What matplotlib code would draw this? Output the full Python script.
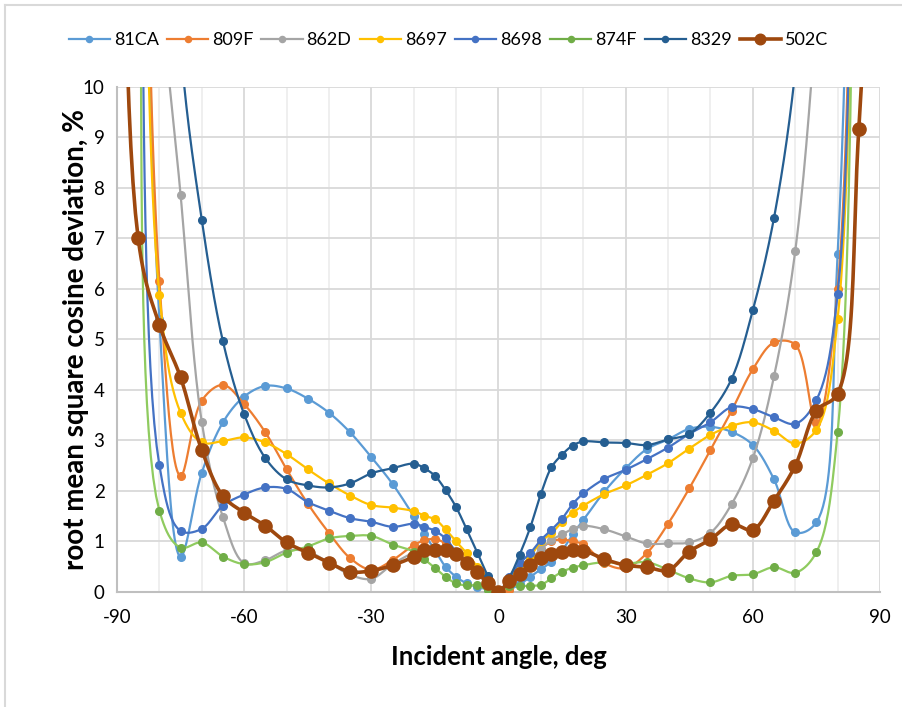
import numpy as np
import matplotlib
matplotlib.use('Agg')
import matplotlib.pyplot as plt

plt.rcParams['font.family'] = ['Lato', 'DejaVu Sans']
plt.rcParams['axes.unicode_minus'] = False

# incident angles, deg
angles = [-85, -80, -75, -70, -65, -60, -55, -50, -45, -40, -35, -30, -25, -20,
          -17.5, -15, -12.5, -10, -7.5, -5, -2.5, 0, 2.5, 5, 7.5, 10, 12.5, 15, 17.5,
          20, 25, 30, 35, 40, 45, 50, 55, 60, 65, 70, 75, 80, 85]
angles_502c = [-90] + angles + [90]

# rms cosine deviation, %  (values above 10 run off the top of the chart)
s_81CA = [21, 5.4, 0.70, 2.36, 3.36, 3.87, 4.08, 4.03, 3.83, 3.55, 3.16, 2.67, 2.14, 1.50,
          1.15, 0.83, 0.50, 0.30, 0.17, 0.10, 0.05, 0, 0.05, 0.15, 0.30, 0.45, 0.60, 0.82, 1.14,
          1.42, 1.99, 2.45, 2.83, 3.02, 3.23, 3.27, 3.17, 2.91, 2.23, 1.18, 1.38, 6.69, 23]
s_809F = [22, 6.16, 2.30, 3.79, 4.10, 3.72, 3.16, 2.43, 1.75, 1.17, 0.67, 0.44, 0.63, 0.93,
          1.02, 1.05, 0.96, 0.80, 0.63, 0.44, 0.22, 0, 0.04, 0.35, 0.60, 0.85, 1.00, 1.04, 1.00,
          0.95, 0.57, 0.47, 0.77, 1.35, 2.05, 2.81, 3.59, 4.41, 4.94, 4.90, 3.34, 6.0, 22]
s_862D = [25, 12.5, 7.87, 3.37, 1.48, 0.57, 0.63, 0.82, 0.80, 0.58, 0.34, 0.26, 0.55, 0.78,
          0.85, 0.90, 0.85, 0.72, 0.55, 0.35, 0.15, 0, 0.20, 0.38, 0.62, 0.85, 1.03, 1.14, 1.25,
          1.31, 1.24, 1.10, 0.96, 0.96, 0.98, 1.17, 1.74, 2.65, 4.27, 6.75, 11.5, 20, 30]
s_8697 = [23, 5.89, 3.55, 2.96, 2.99, 3.06, 2.96, 2.73, 2.43, 2.15, 1.91, 1.72, 1.67, 1.60,
          1.51, 1.44, 1.24, 1.00, 0.77, 0.50, 0.27, 0, 0.27, 0.47, 0.70, 1.00, 1.16, 1.39, 1.57,
          1.71, 1.94, 2.11, 2.32, 2.55, 2.84, 3.11, 3.29, 3.36, 3.19, 2.94, 3.21, 5.4, 20]
s_8698 = [21, 2.51, 1.21, 1.25, 1.71, 1.93, 2.07, 2.04, 1.78, 1.61, 1.46, 1.39, 1.29, 1.35,
          1.29, 1.21, 1.06, 0.80, 0.60, 0.38, 0.20, 0, 0.30, 0.57, 0.77, 1.03, 1.23, 1.45, 1.74,
          1.95, 2.24, 2.42, 2.63, 2.86, 3.13, 3.36, 3.66, 3.62, 3.46, 3.33, 3.80, 5.90, 26]
s_874F = [18, 1.61, 0.88, 0.98, 0.70, 0.55, 0.59, 0.78, 0.90, 1.06, 1.11, 1.11, 0.94, 0.80,
          0.65, 0.48, 0.30, 0.17, 0.13, 0.13, 0.04, 0, 0.12, 0.12, 0.12, 0.14, 0.27, 0.40, 0.48,
          0.53, 0.59, 0.56, 0.59, 0.44, 0.27, 0.19, 0.32, 0.35, 0.49, 0.38, 0.79, 3.16, 20]
s_8329 = [30, 20, 10.8, 7.37, 4.96, 3.52, 2.65, 2.23, 2.11, 2.07, 2.15, 2.35, 2.45, 2.54,
          2.45, 2.30, 2.02, 1.68, 1.24, 0.78, 0.32, 0, 0.28, 0.74, 1.28, 1.94, 2.47, 2.72, 2.90,
          2.98, 2.96, 2.95, 2.91, 3.02, 3.13, 3.55, 4.22, 5.58, 7.41, 10.3, 16, 25, 35]
s_502C = [32, 7.0, 5.29, 4.25, 2.81, 1.90, 1.57, 1.31, 0.98, 0.78, 0.58, 0.40, 0.42, 0.53, 0.70,
          0.84, 0.84, 0.83, 0.76, 0.57, 0.40, 0.17, 0, 0.22, 0.36, 0.54, 0.68, 0.76, 0.79, 0.83,
          0.82, 0.65, 0.53, 0.49, 0.43, 0.80, 1.04, 1.34, 1.23, 1.81, 2.50, 3.59, 3.93, 9.16, 18]

series = [
    ('81CA', angles, s_81CA, '#5B9BD5'),
    ('809F', angles, s_809F, '#ED7D31'),
    ('862D', angles, s_862D, '#A5A5A5'),
    ('8697', angles, s_8697, '#FFC000'),
    ('8698', angles, s_8698, '#4472C4'),
    ('874F', angles, s_874F, '#70AD47'),
    ('8329', angles, s_8329, '#255E91'),
    ('502C', angles_502c, s_502C, '#9E480E'),
]


def smooth(x, y, n=24):
    # centripetal Catmull-Rom through the points, like Excel's smoothed lines
    sx, sy = 4.24, 50.5
    P = np.column_stack([np.asarray(x, float) * sx, np.asarray(y, float) * sy])
    P = np.vstack([2 * P[0] - P[1], P, 2 * P[-1] - P[-2]])
    parts = []
    for i in range(len(P) - 3):
        p0, p1, p2, p3 = P[i:i + 4]
        t0 = 0.0
        t1 = t0 + np.linalg.norm(p1 - p0) ** 0.5
        t2 = t1 + np.linalg.norm(p2 - p1) ** 0.5
        t3 = t2 + np.linalg.norm(p3 - p2) ** 0.5
        t = np.linspace(t1, t2, n)[:, None]
        a1 = (t1 - t) / (t1 - t0) * p0 + (t - t0) / (t1 - t0) * p1
        a2 = (t2 - t) / (t2 - t1) * p1 + (t - t1) / (t2 - t1) * p2
        a3 = (t3 - t) / (t3 - t2) * p2 + (t - t2) / (t3 - t2) * p3
        b1 = (t2 - t) / (t2 - t0) * a1 + (t - t0) / (t2 - t0) * a2
        b2 = (t3 - t) / (t3 - t1) * a2 + (t - t1) / (t3 - t1) * a3
        c = (t2 - t) / (t2 - t1) * b1 + (t - t1) / (t2 - t1) * b2
        parts.append(c if i == 0 else c[1:])
    c = np.vstack(parts)
    return c[:, 0] / sx, c[:, 1] / sy


fig = plt.figure(figsize=(9.02, 7.07), dpi=100)
ax = fig.add_axes([0.1297, 0.1627, 0.8459, 0.7143])

handles = []
for name, xs, ys, col in series:
    big = name == '502C'
    lw = 2.6 if big else 1.6
    ms = 9.5 if big else 5.5
    lc = '#8FCB5F' if name == '874F' else col
    sx_, sy_ = smooth(xs, ys)
    ax.plot(sx_, sy_, color=lc, lw=lw, solid_capstyle='round', zorder=3)
    ax.plot(xs, ys, 'o', color=col, ms=ms, mec=col, zorder=3)
    h, = ax.plot([], [], '-o', color=col, lw=lw, ms=ms * 0.8, label=name)
    handles.append(h)

ax.set_xlim(-90, 90)
ax.set_ylim(0, 10)
ax.set_xticks(range(-90, 91, 30))
ax.set_xticks(range(-90, 91, 10), minor=True)
ax.set_yticks(range(0, 11))
ax.grid(which='major', color='#D9D9D9', lw=1.3, zorder=0)
ax.grid(which='minor', axis='x', color='#EEEEEE', lw=1.3, zorder=0)
ax.tick_params(which='both', length=0, labelsize=13.5, colors='black')
ax.tick_params(axis='x', pad=12)
ax.tick_params(axis='y', pad=9)
for s in ['top', 'right']:
    ax.spines[s].set_visible(False)
for s in ['left', 'bottom']:
    ax.spines[s].set_color('#BFBFBF')
    ax.spines[s].set_linewidth(1.5)

ax.set_xlabel('Incident angle, deg', fontsize=18.5, fontweight='bold', labelpad=14)
ax.set_ylabel('root mean square cosine deviation, %', fontsize=20, fontweight='bold')
ax.yaxis.set_label_coords(-0.037, 0.5)

fig.legend(handles=handles, loc='center', bbox_to_anchor=(0.497, 0.943), ncol=8,
           frameon=False, fontsize=13, handlelength=2.3, handletextpad=0.2, columnspacing=0.45)

# chart area border
fig.add_artist(plt.Line2D([0.005, 0.005], [0, 0.993], color='#D9D9D9', lw=1.5))
fig.add_artist(plt.Line2D([0.005, 1.0], [0.993, 0.993], color='#D9D9D9', lw=1.5))

fig.savefig('out.png', dpi=100)
